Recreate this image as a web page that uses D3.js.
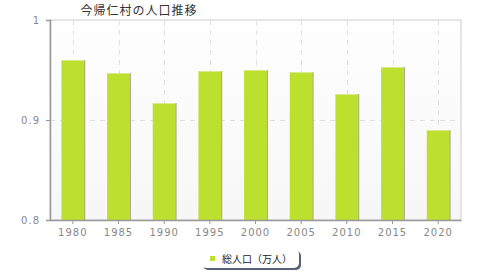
<!DOCTYPE html>
<html>
<head>
<meta charset="utf-8">
<script src="https://cdn.jsdelivr.net/npm/d3@7"></script>
<style>
  body { margin: 0; background: #fff; }
  text { font-family: "DejaVu Sans", sans-serif; }
</style>
</head>
<body>
<div id="chart"></div>
<script>
const years = ["1980", "1985", "1990", "1995", "2000", "2005", "2010", "2015", "2020"];
const population = [0.960, 0.947, 0.917, 0.949, 0.950, 0.948, 0.926, 0.953, 0.890];
const yTicks = [0.8, 0.9, 1];
const yTickLabels = ["0.8", "0.9", "1"];
const seriesName = "総人口（万人）";
const title = "今帰仁村の人口推移";

const width = 480;
const height = 280;
const margin = { top: 20, right: 19, bottom: 60, left: 50 };
const innerW = width - margin.left - margin.right;
const innerH = height - margin.top - margin.bottom;
const barColor = "#bde02f";

const svg = d3.select("#chart")
  .append("svg")
  .attr("width", width)
  .attr("height", height);

const defs = svg.append("defs");
const grad = defs.append("linearGradient")
  .attr("id", "bg")
  .attr("x1", 0).attr("y1", 0).attr("x2", 0).attr("y2", 1);
grad.append("stop").attr("offset", "0%").attr("stop-color", "#fefefe");
grad.append("stop").attr("offset", "100%").attr("stop-color", "#f7f7f7");

const g = svg.append("g")
  .attr("transform", "translate(" + margin.left + "," + margin.top + ")");

const x = d3.scaleBand()
  .domain(years)
  .range([0, innerW])
  .paddingInner(0.5)
  .paddingOuter(0.25);

const y = d3.scaleLinear()
  .domain([0.8, 1])
  .range([innerH, 0]);

// plot background + light frame
g.append("rect")
  .attr("width", innerW)
  .attr("height", innerH)
  .attr("fill", "url(#bg)")
  .attr("stroke", "#dddddd")
  .attr("stroke-width", 1.5);

// grid lines
g.selectAll(".vgrid")
  .data(years)
  .enter()
  .append("line")
  .attr("x1", (d) => Math.round(x(d) + x.bandwidth() / 2) + 0.5)
  .attr("x2", (d) => Math.round(x(d) + x.bandwidth() / 2) + 0.5)
  .attr("y1", 0)
  .attr("y2", innerH)
  .attr("stroke", "#e0e0e0")
  .attr("stroke-dasharray", "5,5");

g.selectAll(".hgrid")
  .data(yTicks.slice(1, -1))
  .enter()
  .append("line")
  .attr("x1", 0)
  .attr("x2", innerW)
  .attr("y1", (d) => Math.round(y(d)) + 0.5)
  .attr("y2", (d) => Math.round(y(d)) + 0.5)
  .attr("stroke", "#e0e0e0")
  .attr("stroke-dasharray", "5,5");

// bars (with a thin shadow on the right)
const bars = g.selectAll(".bar").data(years).enter();
bars.append("rect")
  .attr("x", (d) => x(d) + 1)
  .attr("y", (d, i) => y(population[i]))
  .attr("width", x.bandwidth())
  .attr("height", (d, i) => innerH - y(population[i]))
  .attr("fill", "#a6a88a");
bars.append("rect")
  .attr("x", (d) => x(d))
  .attr("y", (d, i) => y(population[i]))
  .attr("width", x.bandwidth())
  .attr("height", (d, i) => innerH - y(population[i]))
  .attr("fill", barColor);
bars.append("line")
  .attr("x1", (d) => x(d))
  .attr("x2", (d) => x(d) + x.bandwidth())
  .attr("y1", (d, i) => y(population[i]) + 0.5)
  .attr("y2", (d, i) => y(population[i]) + 0.5)
  .attr("stroke", "#d6ec8c");

// axes
const yAxis = g.append("g")
  .call(d3.axisLeft(y).tickValues(yTicks).tickSize(4).tickFormat((d, i) => yTickLabels[i]));
yAxis.select(".domain").attr("stroke", "#999").attr("stroke-width", 1.5);
yAxis.selectAll("line").attr("stroke", "#999");
yAxis.selectAll("text")
  .attr("fill", "#888")
  .style("font-size", "10px")
  .style("letter-spacing", "1px")
  .attr("x", -10);

const xAxis = g.append("g")
  .attr("transform", "translate(0," + innerH + ")")
  .call(d3.axisBottom(x).tickSize(4).tickSizeOuter(0));
xAxis.select(".domain").attr("stroke", "#999").attr("stroke-width", 1.5);
xAxis.selectAll("line").attr("stroke", "#999");
xAxis.selectAll("text")
  .attr("fill", "#888")
  .style("font-size", "10px")
  .style("letter-spacing", "1px")
  .attr("y", 9);

// title
svg.append("text")
  .attr("x", 139)
  .attr("y", 15)
  .attr("text-anchor", "middle")
  .attr("fill", "#333")
  .style("font-size", "12px")
  .style("letter-spacing", "1px")
  .style("font-family", "'Noto Sans CJK JP', sans-serif")
  .text(title);

// legend
const legend = svg.append("g").attr("transform", "translate(201,249)");
legend.append("rect")
  .attr("x", 2).attr("y", 2)
  .attr("width", 98).attr("height", 19)
  .attr("rx", 5)
  .attr("fill", "#5a6078");
legend.append("rect")
  .attr("width", 98).attr("height", 19)
  .attr("rx", 5)
  .attr("fill", "#fff");
legend.append("rect")
  .attr("x", 9).attr("y", 7)
  .attr("width", 5).attr("height", 5)
  .attr("fill", barColor);
legend.append("text")
  .attr("x", 21)
  .attr("y", 13.5)
  .attr("fill", "#222")
  .style("font-size", "10px")
  .style("font-family", "'Noto Sans CJK JP', sans-serif")
  .text(seriesName);
</script>
</body>
</html>
